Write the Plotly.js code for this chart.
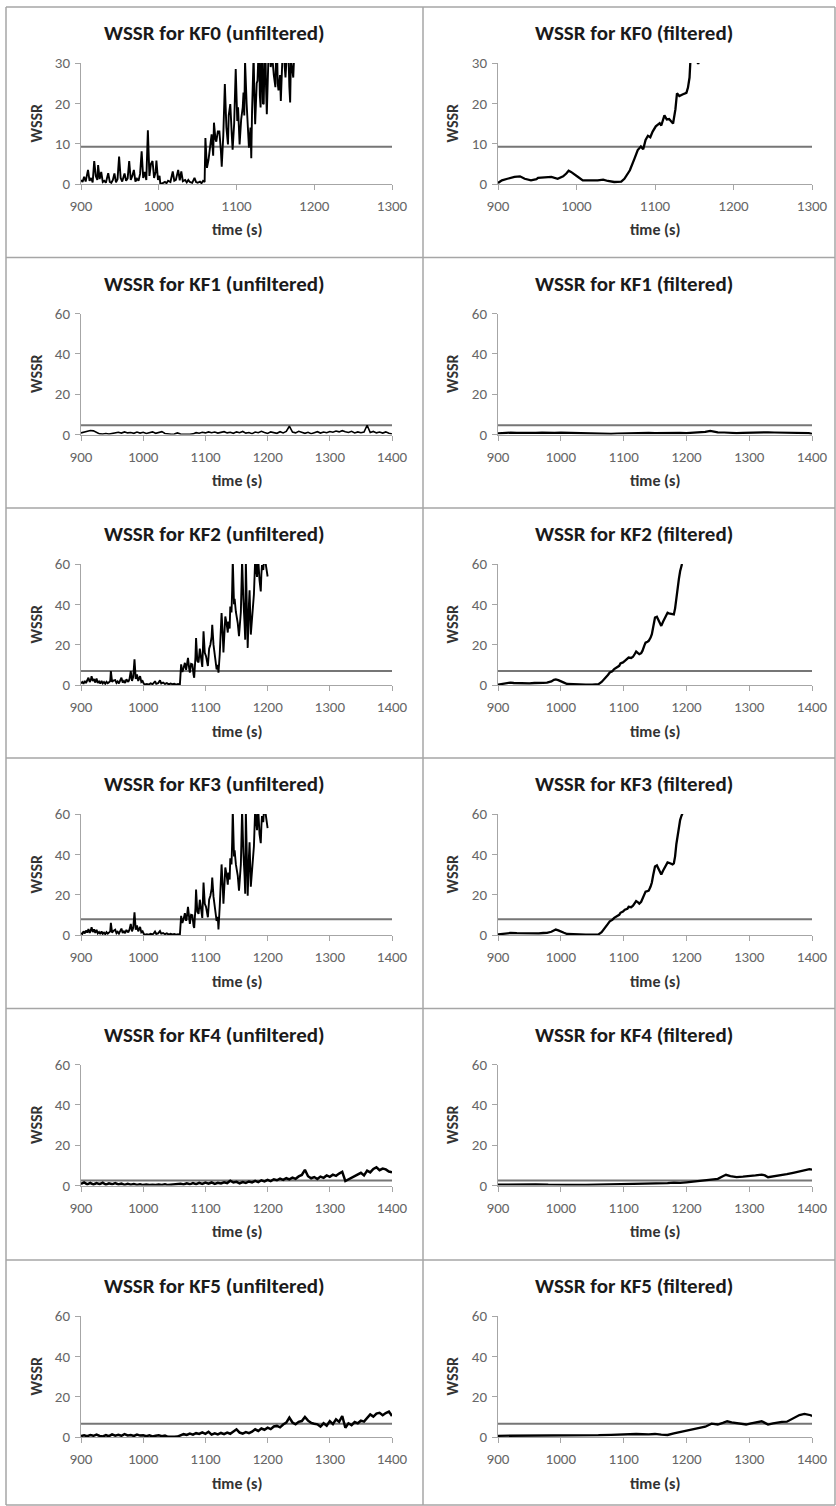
<!DOCTYPE html>
<html><head><meta charset="utf-8">
<script src="https://cdn.plot.ly/plotly-3.0.1.min.js"></script>
<style>html,body{margin:0;padding:0;background:#fff}#chart{width:836px;height:1506px}</style>
</head><body><div id="chart"></div><script>
// ---------------- DATA ----------------
const titles = [
  "WSSR for KF0 (unfiltered)", "WSSR for KF0 (filtered)",
  "WSSR for KF1 (unfiltered)", "WSSR for KF1 (filtered)",
  "WSSR for KF2 (unfiltered)", "WSSR for KF2 (filtered)",
  "WSSR for KF3 (unfiltered)", "WSSR for KF3 (filtered)",
  "WSSR for KF4 (unfiltered)", "WSSR for KF4 (filtered)",
  "WSSR for KF5 (unfiltered)", "WSSR for KF5 (filtered)"
];
const xAxisTitle = "time (s)";
const yAxisTitle = "WSSR";
const thresholds = [9.21, 4.6, 7.0, 7.8, 2.5, 6.6]; // one per KF (row)
const xMaxByRow = [1300, 1400, 1400, 1400, 1400, 1400];
const yMaxByRow = [30, 60, 60, 60, 60, 60];
const xTicks1300 = [900, 1000, 1100, 1200, 1300];
const xTicks1400 = [900, 1000, 1100, 1200, 1300, 1400];
const yTicks30 = [0, 10, 20, 30];
const yTicks60 = [0, 20, 40, 60];

const t5 = [
  900,905,910,915,920,925,930,935,940,945,
  950,955,960,965,970,975,980,985,990,995,
  1000,1005,1010,1015,1020,1025,1030,1035,1040,1045,
  1050,1055,1060,1065,1070,1075,1080,1085,1090,1095,
  1100,1105,1110,1115,1120,1125,1130,1135,1140,1145,
  1150,1155,1160,1165,1170,1175,1180,1185,1190,1195,
  1200,1205,1210,1215,1220,1225,1230,1235,1240,1245,
  1250,1255,1260,1265,1270,1275,1280,1285,1290,1295,
  1300,1305,1310,1315,1320,1325,1330,1335,1340,1345,
  1350,1355,1360,1365,1370,1375,1380,1385,1390,1395,
  1400
];

const kf0u = [
  [900,1.0],[902,0.5],[904,1.8],[906,0.6],[909,3.5],[911,0.8],[913,1.5],[915,0.4],[917,5.7],[919,2.0],
  [921,1.0],[922,4.7],[924,1.2],[926,3.0],[928,0.5],[930,0.8],[932,0.3],[935,2.7],[937,0.5],[939,0.3],
  [941,1.0],[943,2.6],[945,0.4],[947,1.2],[949,6.8],[951,1.5],[953,0.6],[956,2.6],[958,0.8],[960,1.4],
  [962,5.7],[964,1.0],[966,2.0],[968,3.5],[970,0.6],[972,1.3],[974,0.8],[976,2.5],[978,8.1],[980,1.5],
  [982,3.0],[984,1.0],[986,13.3],[988,2.0],[990,5.0],[992,5.7],[994,1.5],[996,3.0],[997,5.8],[999,1.0],
  [1001,2.0],[1002,0.1],[1005,0.2],[1008,0.5],[1010,0.2],[1012,0.8],[1015,0.5],[1018,3.1],[1020,0.8],[1022,1.0],
  [1025,3.5],[1027,0.9],[1029,3.1],[1031,0.7],[1034,1.0],[1036,0.4],[1038,1.0],[1040,0.5],[1043,0.3],[1046,1.5],
  [1048,0.5],[1050,0.3],[1053,0.6],[1055,0.2],[1057,0.8],[1059,0.5],[1060,11.4],[1062,4.0],[1064,6.0],[1066,10.0],
  [1068,12.3],[1070,7.0],[1071,15.2],[1073,11.0],[1074,10.5],[1076,13.0],[1078,13.0],[1080,8.0],[1081,4.3],[1083,12.0],
  [1085,24.8],[1087,14.0],[1089,9.8],[1090,17.0],[1092,19.8],[1094,12.0],[1095,8.5],[1097,15.0],[1099,28.5],[1101,15.6],
  [1102,19.0],[1104,9.8],[1106,16.0],[1108,19.0],[1109,22.7],[1110,17.0],[1111,30.5],[1113,20.0],[1114,15.6],[1115,12.0],
  [1116,9.0],[1118,14.0],[1119,6.4],[1120,18.0],[1122,32.0],[1123,22.0],[1124,14.8],[1126,25.0],[1127,25.6],[1128,31.0],
  [1129,35.0],[1130,22.0],[1131,19.0],[1132,31.0],[1133,34.0],[1134,20.0],[1135,19.8],[1136,30.0],[1137,36.0],[1138,24.0],
  [1139,17.3],[1141,31.0],[1142,38.0],[1144,29.0],[1146,31.5],[1148,27.0],[1150,24.0],[1151,33.0],[1152,35.0],[1153,25.0],
  [1154,23.2],[1156,27.0],[1157,20.6],[1159,31.0],[1160,40.0],[1162,29.0],[1163,26.4],[1165,33.0],[1166,38.0],[1168,24.0],
  [1169,20.2],[1170,31.0],[1171,29.8],[1173,26.4],[1174,31.0],[1175,33.0]
];
const kf0f = [
  [900,0.25],[905,0.9],[912,1.3],[921,1.75],[928,1.9],[934,1.3],[942,0.9],[949,1.2],[951,1.5],[959,1.6],
  [968,1.75],[976,1.3],[983,1.9],[987,2.6],[990,3.3],[993,3.0],[998,2.4],[1002,1.75],[1008,0.9],[1019,0.8],
  [1027,0.9],[1034,1.1],[1040,0.75],[1048,0.5],[1057,0.6],[1061,1.3],[1068,3.4],[1074,6.35],[1078,8.4],[1082,9.3],
  [1085,8.6],[1088,10.9],[1091,11.95],[1094,11.6],[1097,13.0],[1101,14.3],[1106,15.1],[1108,14.5],[1112,17.0],[1115,16.0],
  [1118,16.1],[1123,15.0],[1126,18.5],[1128,22.5],[1131,21.8],[1135,22.2],[1140,22.6],[1142,23.9],[1144,26.4],[1145,30.2],
  [1148,33.0],[1151,31.5],[1155,29.8],[1158,31.2],[1162,34.0]
];
const kf1uV = [
  0.8,1.2,1.5,2.0,1.8,1.0,0.3,0.2,0.5,0.2,
  0.4,0.9,1.1,0.7,1.3,0.8,1.0,0.6,1.2,0.7,
  1.1,0.5,0.9,1.3,0.6,1.0,1.4,0.5,0.2,0.1,
  0.2,0.8,0.2,0.1,0.2,0.1,0.3,0.9,0.6,1.1,
  0.8,1.3,0.9,1.2,0.7,1.0,1.4,0.8,1.1,0.6,
  1.3,0.9,1.5,0.7,1.0,0.4,1.2,0.9,1.6,1.0,
  0.5,1.3,1.0,0.6,1.4,0.8,1.5,4.1,1.2,0.8,
  1.6,1.0,0.6,1.1,0.4,0.9,1.4,0.7,1.2,0.9,
  1.5,1.1,1.7,1.3,1.9,1.4,1.0,1.6,0.8,1.3,
  0.9,1.2,4.6,1.0,1.5,0.8,1.2,0.7,1.3,0.6,
  0.2
];
const kf1f = [
  [900,0.6],[910,0.8],[920,0.9],[930,0.8],[940,0.7],[950,0.6],[960,0.8],[970,0.9],[980,0.7],[990,0.8],
  [1000,0.9],[1010,0.8],[1020,0.7],[1030,0.8],[1040,0.5],[1050,0.3],[1060,0.2],[1070,0.2],[1080,0.3],[1090,0.5],
  [1100,0.6],[1110,0.7],[1120,0.6],[1130,0.7],[1140,0.8],[1150,0.7],[1160,0.8],[1170,0.9],[1180,0.7],[1190,0.8],
  [1200,0.7],[1210,0.9],[1220,1.0],[1230,1.3],[1238,1.8],[1245,1.4],[1250,1.1],[1260,1.0],[1270,0.8],[1280,0.7],
  [1290,0.8],[1300,0.9],[1310,1.0],[1320,1.2],[1330,1.1],[1340,1.0],[1350,0.9],[1360,1.1],[1370,1.0],[1380,0.9],
  [1390,0.8],[1395,0.7],[1400,0.3]
];
const kf2u = [
  [900,0.8],[902,1.5],[904,0.6],[906,2.0],[908,1.0],[910,2.5],[912,3.6],[914,1.5],[916,2.8],[917,4.4],
  [919,2.0],[921,3.0],[923,1.2],[925,3.2],[927,1.0],[929,1.8],[931,0.7],[933,2.0],[935,0.8],[937,1.5],
  [939,0.6],[941,1.6],[943,0.9],[945,1.4],[947,2.0],[948,6.9],[950,1.5],[952,2.2],[955,2.4],[957,1.0],
  [959,1.8],[961,0.8],[963,2.5],[965,3.6],[967,1.2],[969,2.0],[971,1.0],[973,2.8],[976,1.5],[978,3.0],
  [980,6.9],[982,2.0],[984,4.0],[986,12.7],[988,3.0],[990,5.3],[992,2.0],[994,3.5],[995,4.4],[997,1.5],
  [999,2.0],[1001,0.6],[1003,0.3],[1006,0.5],[1009,0.2],[1012,0.8],[1015,0.4],[1017,1.0],[1019,1.9],[1021,0.6],
  [1024,0.9],[1027,2.3],[1029,0.8],[1032,1.2],[1035,0.5],[1038,0.9],[1041,0.3],[1044,0.7],[1047,0.4],[1050,0.6],
  [1053,0.2],[1056,0.5],[1059,0.3],[1061,10.2],[1063,6.5],[1065,8.6],[1067,11.0],[1069,7.5],[1070,9.0],[1072,13.5],
  [1074,8.0],[1075,6.1],[1077,10.5],[1079,10.2],[1081,5.0],[1082,3.6],[1084,14.0],[1085,23.3],[1087,12.0],[1089,11.2],
  [1091,18.0],[1093,14.3],[1095,9.0],[1097,26.6],[1099,16.0],[1101,14.3],[1103,11.0],[1104,9.4],[1106,18.0],[1108,20.0],
  [1110,24.0],[1111,29.9],[1113,20.0],[1115,14.3],[1117,12.0],[1118,7.7],[1120,10.0],[1121,6.1],[1123,15.0],[1124,21.0],
  [1126,35.7],[1128,24.0],[1129,16.1],[1131,28.0],[1132,34.0],[1134,30.7],[1136,26.0],[1137,31.5],[1139,28.0],[1140,38.9],
  [1142,36.0],[1143,47.0],[1144,62.0],[1146,40.0],[1147,42.7],[1149,36.2],[1151,33.0],[1152,30.7],[1154,24.2],[1156,32.0],
  [1157,36.2],[1159,62.0],[1160,48.0],[1161,42.7],[1163,30.0],[1164,22.5],[1165,62.0],[1167,35.0],[1168,18.4],[1170,40.0],
  [1171,47.0],[1173,25.0],[1175,35.0],[1176,36.2],[1178,45.0],[1180,62.0],[1182,55.0],[1183,53.6],[1184,60.5],[1185,62.0],
  [1187,52.0],[1189,46.4],[1190,55.0],[1191,59.5],[1193,57.0],[1194,61.0],[1196,62.0],[1198,58.0],[1200,53.8]
];
const kf2f = [
  [900,0.2],[905,0.5],[912,0.9],[920,1.2],[925,1.0],[930,0.9],[940,0.8],[950,0.8],[958,1.0],[965,0.9],
  [972,1.1],[978,1.2],[985,1.8],[989,2.6],[992,2.8],[996,2.4],[1000,2.0],[1005,1.2],[1010,0.5],[1020,0.3],
  [1030,0.2],[1040,0.2],[1050,0.2],[1060,0.4],[1065,1.5],[1070,3.0],[1075,5.0],[1078,6.2],[1082,6.8],[1085,7.9],
  [1090,8.7],[1093,9.5],[1095,10.7],[1099,11.2],[1102,12.0],[1106,12.8],[1108,13.6],[1112,13.4],[1115,14.0],[1118,15.5],
  [1120,16.6],[1123,15.8],[1125,15.3],[1128,15.8],[1130,16.9],[1133,19.5],[1135,21.0],[1138,21.5],[1140,21.9],[1143,23.5],
  [1145,25.2],[1147,28.5],[1150,33.4],[1153,33.8],[1155,32.6],[1158,30.5],[1160,29.3],[1163,31.5],[1165,32.6],[1168,34.5],
  [1170,35.8],[1172,35.5],[1175,35.3],[1178,34.8],[1180,35.0],[1182,38.0],[1184,43.5],[1186,48.5],[1188,52.5],[1190,56.4],
  [1192,58.5],[1193,60.0]
];
const kf3u = [
  [900,1.0],[902,0.5],[904,1.8],[906,0.8],[908,2.2],[910,1.2],[912,3.0],[914,1.0],[916,2.5],[917,3.8],
  [919,1.5],[921,2.8],[923,1.0],[925,2.6],[927,0.8],[929,1.5],[931,0.5],[933,1.8],[935,0.6],[937,1.2],
  [939,0.4],[941,1.4],[943,0.7],[945,1.2],[947,1.8],[948,6.0],[950,1.2],[952,2.0],[955,2.6],[957,0.9],
  [959,1.6],[961,0.7],[963,2.2],[965,3.2],[967,1.0],[969,1.8],[971,0.9],[973,2.5],[976,1.3],[978,2.8],
  [980,5.5],[982,1.8],[984,3.6],[986,11.3],[988,2.6],[990,4.8],[992,1.8],[994,3.2],[995,4.0],[997,1.3],
  [999,1.8],[1001,0.5],[1003,0.2],[1006,0.4],[1009,0.2],[1012,0.6],[1015,0.3],[1017,0.8],[1019,1.7],[1021,0.5],
  [1024,0.8],[1027,2.0],[1029,0.7],[1032,1.0],[1035,0.4],[1038,0.8],[1041,0.2],[1044,0.6],[1047,0.3],[1050,0.5],
  [1053,0.2],[1056,0.4],[1059,0.2],[1061,9.5],[1063,6.0],[1065,8.0],[1067,10.8],[1069,7.0],[1070,8.5],[1072,14.0],
  [1074,7.5],[1075,5.5],[1077,10.0],[1079,9.8],[1081,4.5],[1082,3.5],[1084,13.5],[1085,22.5],[1087,11.5],[1089,10.5],
  [1091,17.5],[1093,13.8],[1095,8.5],[1097,26.0],[1099,15.5],[1101,14.0],[1103,10.5],[1104,8.8],[1106,17.5],[1108,19.5],
  [1110,23.0],[1111,28.5],[1113,19.0],[1115,13.5],[1117,11.0],[1118,7.0],[1120,9.0],[1121,2.8],[1123,14.0],[1124,20.0],
  [1126,35.0],[1128,23.0],[1129,15.5],[1131,27.0],[1132,33.5],[1134,30.0],[1136,25.0],[1137,31.0],[1139,27.5],[1140,38.0],
  [1142,35.0],[1143,46.0],[1144,62.0],[1146,39.0],[1147,42.0],[1149,35.0],[1151,31.5],[1152,29.5],[1154,22.0],[1156,31.0],
  [1157,35.0],[1159,62.0],[1160,47.0],[1161,41.0],[1163,29.0],[1164,20.5],[1165,62.0],[1167,34.0],[1168,19.5],[1170,39.0],
  [1171,46.0],[1173,24.0],[1175,34.0],[1176,35.5],[1178,44.0],[1180,62.0],[1182,54.0],[1183,52.0],[1184,60.5],[1185,62.0],
  [1187,50.0],[1189,45.5],[1190,54.0],[1191,59.0],[1193,56.0],[1194,61.0],[1196,62.0],[1198,57.0],[1200,53.0]
];
const kf3f = [
  [900,0.3],[905,0.5],[912,0.8],[920,1.0],[930,0.9],[940,0.8],[950,0.8],[958,0.9],[965,0.8],[972,1.0],
  [978,1.1],[985,1.6],[989,2.4],[992,2.7],[996,2.3],[1000,1.9],[1005,1.1],[1010,0.5],[1020,0.3],[1030,0.2],
  [1040,0.2],[1050,0.2],[1060,0.3],[1065,1.4],[1070,3.2],[1075,5.5],[1078,6.8],[1082,7.5],[1085,8.5],[1090,9.5],
  [1093,10.0],[1095,11.0],[1099,11.6],[1102,12.5],[1106,13.0],[1108,14.0],[1112,13.8],[1115,14.5],[1118,16.0],[1120,16.8],
  [1123,16.2],[1125,15.6],[1128,16.5],[1130,18.0],[1133,20.5],[1135,21.5],[1138,21.8],[1140,22.0],[1143,24.0],[1145,26.0],
  [1147,29.5],[1150,34.0],[1153,34.5],[1155,33.0],[1158,31.0],[1160,30.0],[1163,32.0],[1165,33.0],[1168,35.0],[1170,36.0],
  [1172,35.8],[1175,35.5],[1178,35.0],[1180,35.5],[1182,39.0],[1184,45.0],[1186,50.0],[1188,54.0],[1190,57.0],[1192,59.0],
  [1194,60.5]
];
const kf4uV = [
  0.8,1.5,0.6,1.3,0.5,1.2,0.7,1.4,0.4,1.1,
  0.6,1.2,0.5,0.9,0.3,0.8,0.4,0.7,0.3,0.6,
  0.2,0.5,0.2,0.4,0.2,0.5,0.3,0.6,0.2,0.4,
  0.3,0.6,0.9,0.5,1.1,0.6,1.2,0.7,1.3,0.8,
  1.4,0.9,1.5,0.8,1.3,1.0,1.6,1.2,2.4,1.5,
  1.8,1.1,1.7,1.3,2.0,1.5,2.3,1.7,2.6,2.0,
  2.8,2.2,3.1,2.6,3.4,2.8,3.6,3.0,3.9,3.3,
  4.5,5.2,7.8,4.6,3.6,4.2,3.2,4.4,3.8,5.0,
  4.3,5.4,4.8,5.9,6.8,2.2,3.0,4.1,4.8,5.6,
  6.3,5.0,7.4,6.5,8.2,9.0,7.6,8.4,8.0,6.9,
  6.5
];
const kf4f = [
  [900,0.4],[920,0.5],[940,0.5],[960,0.6],[980,0.4],[1000,0.5],[1020,0.3],[1040,0.3],[1060,0.4],[1080,0.6],
  [1100,0.7],[1120,0.8],[1140,1.0],[1150,1.1],[1160,0.9],[1170,1.2],[1180,1.4],[1190,1.3],[1200,1.6],[1210,2.0],
  [1220,2.4],[1230,2.7],[1240,2.9],[1250,3.3],[1258,4.6],[1263,5.3],[1270,4.6],[1280,4.2],[1290,4.4],[1300,4.6],
  [1310,5.0],[1320,5.4],[1325,5.0],[1330,4.1],[1340,4.5],[1350,5.1],[1360,5.6],[1370,6.3],[1380,6.9],[1390,7.6],
  [1396,8.1],[1400,7.9]
];
const kf5uV = [
  0.5,0.8,0.4,1.0,0.6,1.2,0.5,0.3,0.9,0.4,
  1.3,0.7,1.1,0.6,1.4,0.8,1.0,0.5,1.2,0.7,
  0.9,0.4,0.8,0.3,0.6,0.9,0.4,0.7,0.1,0.0,
  0.1,0.2,1.0,1.4,1.0,1.7,1.2,1.9,1.5,2.3,
  1.6,2.6,1.2,1.8,1.3,2.0,1.4,2.2,1.6,2.5,
  3.8,2.2,1.7,2.4,1.9,2.6,3.8,3.0,4.2,3.6,
  4.6,3.9,5.2,5.5,4.8,6.2,7.1,9.6,7.2,6.3,
  7.5,7.9,9.9,8.1,7.0,6.6,6.3,5.2,6.8,5.6,
  7.9,6.4,8.8,7.5,10.4,4.6,6.8,5.9,7.4,6.8,
  8.1,7.6,9.5,11.2,10.1,11.6,12.0,10.8,11.9,12.6,
  10.4
];
const kf5f = [
  [900,0.6],[920,0.6],[940,0.7],[960,0.8],[980,0.7],[1000,0.8],[1020,0.7],[1040,0.6],[1060,0.9],[1080,1.1],
  [1100,1.4],[1120,1.5],[1140,1.3],[1150,1.5],[1160,1.2],[1170,1.0],[1180,1.8],[1190,2.5],[1200,3.0],[1210,3.7],
  [1220,4.3],[1230,5.1],[1240,6.6],[1250,6.2],[1258,7.0],[1265,7.8],[1272,7.2],[1280,6.9],[1290,6.4],[1295,6.2],
  [1303,6.8],[1310,7.2],[1320,7.8],[1325,7.0],[1330,6.2],[1338,6.8],[1345,7.2],[1352,7.5],[1360,7.6],[1366,8.5],
  [1372,9.6],[1380,10.9],[1388,11.5],[1393,11.3],[1398,10.8],[1400,10.3]
];

// ---------------- LAYOUT ----------------
const W = 836, H = 1506;
const FONT = "Carlito, 'Open Sans', 'Liberation Sans', sans-serif";
const rowTops = [7, 257.5, 508, 758, 1008.5, 1260];
const plotTopOff = 56, plotBotOff = 177;
const colPlot = [[81, 392], [498, 812]];
const colTitleX = [215, 634];
const colYLabX = [36, 452];
const dividerX = 423;
const lineWidths = [1.9, 2.3, 1.6, 2.2, 1.9, 2.3, 1.9, 2.3, 2.5, 2.3, 2.5, 2.3];

const zip = (t, v) => t.map((x, i) => [x, v[i]]);
const seriesList = [
  kf0u, kf0f,
  zip(t5, kf1uV), kf1f,
  kf2u, kf2f,
  kf3u, kf3f,
  zip(t5, kf4uV), kf4f,
  zip(t5, kf5uV), kf5f
];

const traces = [], annotations = [], shapes = [];
const layout = {
  width: W, height: H, margin: {l: 0, r: 0, t: 0, b: 0},
  paper_bgcolor: '#fff', plot_bgcolor: '#fff', showlegend: false,
  font: {family: FONT, color: '#595959'}
};
const px = x => x / W, py = y => 1 - y / H;

for (let i = 0; i < 12; i++) {
  const row = Math.floor(i / 2), col = i % 2, n = i + 1;
  const sfx = n === 1 ? '' : String(n);
  const top = rowTops[row];
  const xmax = xMaxByRow[row], ymax = yMaxByRow[row];
  const data = seriesList[i];
  traces.push({
    x: [900, xmax], y: [thresholds[row], thresholds[row]],
    xaxis: 'x' + sfx, yaxis: 'y' + sfx, mode: 'lines',
    line: {color: '#767676', width: 2}, hoverinfo: 'skip'
  });
  traces.push({
    x: data.map(d => d[0]), y: data.map(d => d[1]),
    xaxis: 'x' + sfx, yaxis: 'y' + sfx, mode: 'lines',
    line: {color: '#000', width: lineWidths[i]}, hoverinfo: 'skip'
  });
  const axCommon = {
    showgrid: false, zeroline: false, showline: true, linecolor: '#a6a6a6', linewidth: 1,
    ticks: 'outside', ticklen: 5, tickcolor: '#a6a6a6', tickwidth: 1,
    tickfont: {family: FONT, size: 15, color: '#666666'}, fixedrange: true
  };
  layout['xaxis' + sfx] = Object.assign({}, axCommon, {
    domain: [px(colPlot[col][0]), px(colPlot[col][1])],
    range: [900, xmax], anchor: 'y' + sfx, ticklabelstandoff: 3,
    tickmode: 'array', tickvals: xmax === 1300 ? xTicks1300 : xTicks1400
  });
  layout['yaxis' + sfx] = Object.assign({}, axCommon, {
    domain: [py(top + plotBotOff), py(top + plotTopOff)],
    range: [0, ymax], anchor: 'x' + sfx, ticklabelstandoff: 2,
    tickmode: 'array', tickvals: ymax === 30 ? yTicks30 : yTicks60
  });
  annotations.push({
    xref: 'paper', yref: 'paper', x: px(colTitleX[col]), y: py(top + 26),
    xanchor: 'center', yanchor: 'middle', showarrow: false, text: titles[i],
    font: {family: FONT, size: 21, color: '#1a1a1a', weight: 700}
  });
  annotations.push({
    xref: 'paper', yref: 'paper', x: px((colPlot[col][0] + colPlot[col][1]) / 2), y: py(top + 223),
    xanchor: 'center', yanchor: 'middle', showarrow: false, text: xAxisTitle,
    font: {family: FONT, size: 16, color: '#333333', weight: 700}
  });
  annotations.push({
    xref: 'paper', yref: 'paper', x: px(colYLabX[col]), y: py(top + (plotTopOff + plotBotOff) / 2),
    xanchor: 'center', yanchor: 'middle', showarrow: false, text: yAxisTitle, textangle: -90,
    font: {family: FONT, size: 16, color: '#333333', weight: 700}
  });
}
const bc = {color: '#a6a6a6', width: 1.5};
rowTops.concat([1505]).forEach(y => shapes.push({type: 'line', xref: 'paper', yref: 'paper',
  x0: px(6), x1: px(835), y0: py(y), y1: py(y), line: bc}));
[6, dividerX, 835].forEach(x => shapes.push({type: 'line', xref: 'paper', yref: 'paper',
  x0: px(x), x1: px(x), y0: py(7), y1: py(1505), line: bc}));
layout.annotations = annotations;
layout.shapes = shapes;

Plotly.newPlot('chart', traces, layout, {staticPlot: true, displayModeBar: false});
</script></body></html>
